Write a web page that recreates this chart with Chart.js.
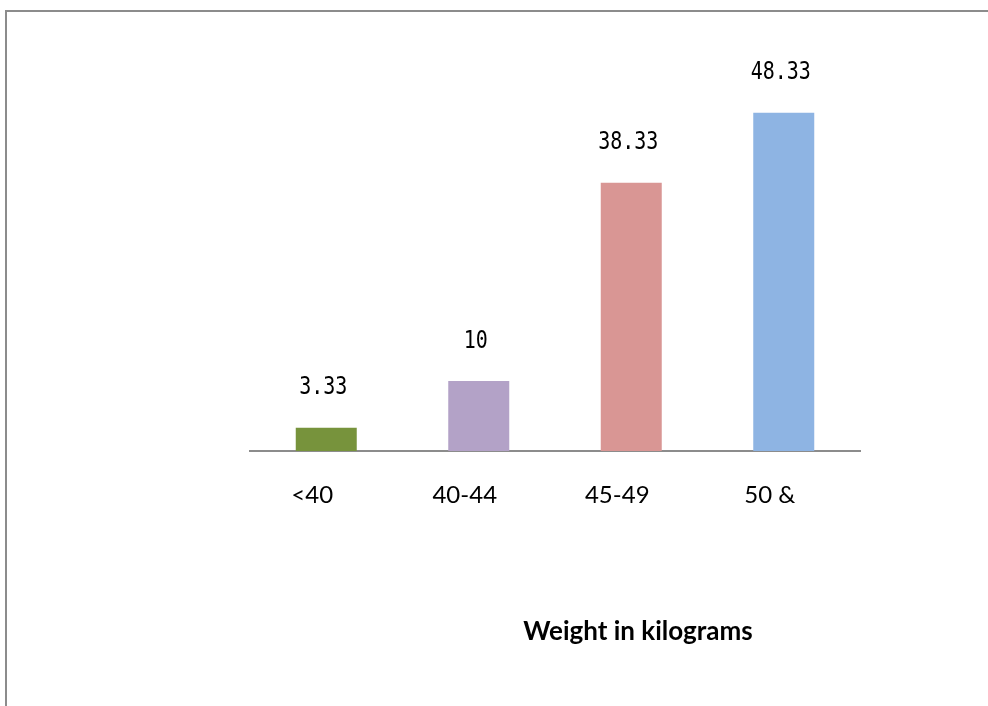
<!DOCTYPE html>
<html>
<head>
<meta charset="utf-8">
<script src="https://cdn.jsdelivr.net/npm/chart.js@4.4.1/dist/chart.umd.min.js"></script>
<style>
  html, body { margin: 0; padding: 0; background: #fff; }
  body { width: 988px; height: 706px; position: relative; overflow: hidden; }
  #frame {
    position: absolute; left: 5px; top: 10px; right: 0; bottom: 0;
    border-top: 2px solid #8c8c8c; border-left: 2px solid #8c8c8c;
  }
  #chartBox { position: absolute; left: 0; top: 0; width: 988px; height: 706px; }
</style>
</head>
<body>
<div id="frame"></div>
<div id="chartBox"><canvas id="weightChart"></canvas></div>
<script>
// Datos del gráfico
const categories = ['<40', '40-44', '45-49', '50 &'];
const percentValues = [3.33, 10, 38.33, 48.33];
const valueLabels = ['3.33', '10', '38.33', '48.33'];
const barColors = ['#77933C', '#B3A2C7', '#D99694', '#8EB4E3'];
const axisTitle = 'Weight in kilograms';

// Etiquetas de valor encima de cada barra (fuente mono estrechada)
const valueLabelPlugin = {
    id: 'valueLabels',
    afterDatasetsDraw(chart) {
        const ctx = chart.ctx;
        const meta = chart.getDatasetMeta(0);
        meta.data.forEach((bar, i) => {
            ctx.save();
            ctx.translate(bar.x - 3, bar.y - 40);
            ctx.scale(0.8, 1);
            ctx.font = '25px "DejaVu Sans Mono"';
            ctx.fillStyle = '#000';
            ctx.textAlign = 'center';
            ctx.textBaseline = 'middle';
            ctx.fillText(valueLabels[i], 0, 0);
            ctx.restore();
        });
    }
};

// Título del eje X (desplazado a la derecha como en el original)
const axisTitlePlugin = {
    id: 'axisTitle',
    afterDraw(chart) {
        const ctx = chart.ctx;
        const area = chart.chartArea;
        ctx.save();
        ctx.font = 'bold 26px Lato';
        ctx.fillStyle = '#000';
        ctx.textAlign = 'center';
        ctx.textBaseline = 'middle';
        ctx.fillText(axisTitle, (area.left + area.right) / 2 + 83, area.bottom + 181);
        ctx.restore();
    }
};

new Chart(document.getElementById('weightChart').getContext('2d'), {
    type: 'bar',
    data: {
        labels: categories,
        datasets: [{
            data: percentValues,
            backgroundColor: barColors,
            borderWidth: 0,
            barPercentage: 0.4,
            categoryPercentage: 1.0
        }]
    },
    options: {
        responsive: true,
        maintainAspectRatio: false,
        animation: false,
        layout: { padding: { left: 250, right: 128, top: 66, bottom: 0 } },
        plugins: {
            legend: { display: false },
            tooltip: { enabled: false }
        },
        scales: {
            x: {
                grid: { display: false, drawTicks: false },
                border: { display: true, color: '#8c8c8c', width: 2 },
                ticks: {
                    color: '#000',
                    font: { family: 'Lato', size: 24 },
                    padding: 30,
                    labelOffset: -14,
                    maxRotation: 0
                },
                afterFit(scale) { scale.height = 255; }
            },
            y: {
                display: false,
                min: 0,
                max: 55
            }
        }
    },
    plugins: [valueLabelPlugin, axisTitlePlugin]
});
</script>
</body>
</html>
